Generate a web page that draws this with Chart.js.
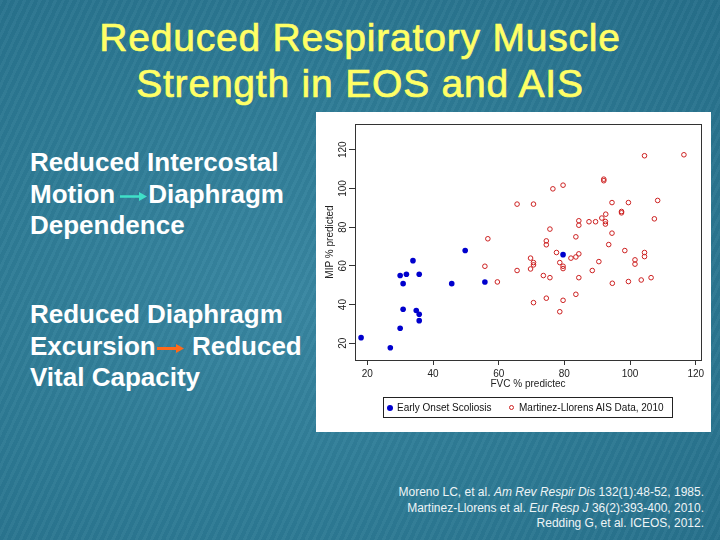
<!DOCTYPE html>
<html>
<head>
<meta charset="utf-8">
<script src="https://cdn.jsdelivr.net/npm/chart.js@4"></script>
<style>
  html, body { margin: 0; padding: 0; }
  body {
    width: 720px; height: 540px; overflow: hidden; position: relative;
    font-family: "Liberation Sans", Arial, sans-serif;
    background: #2c7691;
    background-image:
      repeating-linear-gradient(115deg, rgba(255,255,255,0.03) 0 3px, rgba(0,0,0,0.025) 3px 7px),
      radial-gradient(ellipse at 40% 55%, #3886a1 0%, #2d7a94 55%, #266f8a 100%);
  }
  .title {
    position: absolute; left: 0; top: 15px; width: 720px; text-align: center;
    color: #ffff66; font-size: 39px; line-height: 46px; letter-spacing: 0.8px;
    -webkit-text-stroke: 0.7px #ffff66;
  }
  .side {
    position: absolute; left: 30px; color: #fff; font-weight: bold;
    font-size: 26px; line-height: 31.5px;
  }
  .arrow { display: inline-block; width: 29px; height: 11px; vertical-align: 1px; }
  .panel {
    position: absolute; left: 316px; top: 112px; width: 395px; height: 320px; background: #fff;
  }
  .legend {
    position: absolute; left: 67px; top: 285px; width: 288px; height: 19px;
    border: 1px solid #222; font-size: 10px; color: #111; line-height: 19px;
  }
  .legend span { position: absolute; top: 0; }
  .dot { position: absolute; width: 6px; height: 6px; border-radius: 50%; top: 6.5px; box-sizing: border-box; }
  .refs {
    position: absolute; right: 16px; top: 485px; text-align: right;
    color: #eef4f6; font-size: 12px; line-height: 15.5px;
  }
</style>
</head>
<body>
<div class="title">Reduced Respiratory Muscle<br>Strength in EOS and AIS</div>

<div class="side" style="top:147px">Reduced Intercostal<br>Motion<svg class="arrow" style="margin-left:4px" viewBox="0 0 29 11"><line x1="1" y1="5.5" x2="21" y2="5.5" stroke="#3fe0c8" stroke-width="2.5"/><path d="M20 1 L28 5.5 L20 10 Z" fill="#3fe0c8"/></svg>Diaphragm<br>Dependence</div>

<div class="side" style="top:299px">Reduced Diaphragm<br>Excursion<svg class="arrow" viewBox="0 0 29 11"><line x1="1" y1="5.5" x2="21" y2="5.5" stroke="#ff6a1a" stroke-width="3"/><path d="M20 1 L28 5.5 L20 10 Z" fill="#ff6a1a"/></svg> Reduced<br>Vital Capacity</div>

<div class="panel">
  <canvas id="scatter" width="395" height="320"></canvas>
  <div class="legend">
    <div class="dot" style="left:3px;background:#0000cd"></div>
    <span style="left:13px">Early Onset Scoliosis</span>
    <div class="dot" style="left:125px;border:1px solid #cc2020;width:5px;height:5px;top:7px"></div>
    <span style="left:135px">Martinez-Llorens AIS Data, 2010</span>
  </div>
</div>

<div class="refs">
  Moreno LC, et al. <i>Am Rev Respir Dis</i> 132(1):48-52, 1985.<br>
  Martinez-Llorens et al. <i>Eur Resp J</i> 36(2):393-400, 2010.<br>
  Redding G, et al. ICEOS, 2012.
</div>

<script>
// Early onset scoliosis (FVC %, MIP %)
const eosFvc = [49.8, 33.9, 30.0, 31.9, 35.8, 30.9, 45.7, 55.8, 79.6, 30.9, 34.9, 35.8, 35.8, 30.0, 18.1, 27.0];
const eosMip = [67.9, 62.7, 55.0, 55.7, 55.7, 50.8, 50.8, 51.7, 65.8, 37.6, 36.9, 35.0, 31.7, 27.8, 22.9, 17.7];

// Martinez-Llorens AIS data
const aisFvc = [104.4, 116.4, 92.0, 92.0, 76.5, 79.6, 65.6, 70.6, 94.5, 99.5, 108.4, 97.4, 97.4, 92.6, 91.4,
  92.5, 92.5, 84.4, 84.4, 87.5, 89.5, 107.4, 75.6, 94.5, 74.5, 74.5, 83.5, 93.5, 77.6, 82.0, 83.5, 84.4,
  98.4, 104.4, 104.4, 90.5, 101.5, 101.5, 69.7, 70.6, 70.6, 78.6, 79.6, 79.6, 65.6, 69.7, 88.5, 73.6,
  75.6, 84.4, 94.6, 99.5, 103.4, 106.4, 70.6, 74.5, 79.6, 83.5, 78.6, 56.7, 55.8, 59.6];
const aisMip = [116.9, 117.4, 104.8, 104.0, 99.8, 101.7, 91.9, 91.9, 92.7, 92.7, 93.8, 88.1, 87.4, 86.7, 84.7,
  82.9, 81.6, 83.3, 81.0, 82.8, 82.8, 84.3, 79.0, 76.9, 72.9, 70.9, 75.0, 71.0, 66.9, 64.0, 64.6, 66.2,
  67.9, 66.9, 64.8, 62.2, 63.1, 60.9, 64.0, 61.7, 60.5, 61.7, 59.8, 58.6, 57.6, 58.4, 57.6, 55.0,
  53.9, 53.9, 51.0, 51.9, 52.7, 53.9, 41.0, 43.3, 42.2, 45.3, 36.3, 74.0, 59.8, 51.7];

const xTicks = [20, 40, 60, 80, 100, 120];
const yTicks = [20, 40, 60, 80, 100, 120];

function toPoints(xs, ys) {
  return xs.map((x, i) => ({x: x, y: ys[i]}));
}

const fixTicks = (vals) => (scale) => { scale.ticks = vals.map(v => ({value: v})); };

// box round the plot and R-style rotated y labels
const rFrame = {
  id: "rFrame",
  afterDraw(chart) {
    const {ctx, chartArea: a} = chart;
    const y = chart.scales.y;
    ctx.save();
    ctx.strokeStyle = "#333";
    ctx.lineWidth = 1;
    ctx.strokeRect(Math.round(a.left) + 0.5, Math.round(a.top) + 0.5,
      Math.round(a.right - a.left), Math.round(a.bottom - a.top));
    ctx.fillStyle = "#222";
    ctx.font = "10px 'Liberation Sans', Arial, sans-serif";
    ctx.textAlign = "center";
    ctx.textBaseline = "middle";
    yTicks.forEach(v => {
      ctx.save();
      ctx.translate(27, y.getPixelForValue(v));
      ctx.rotate(-Math.PI / 2);
      ctx.fillText(String(v), 0, 0);
      ctx.restore();
    });
    ctx.restore();
  }
};

new Chart(document.getElementById("scatter"), {
  type: "scatter",
  data: {
    datasets: [
      {
        label: "Early Onset Scoliosis",
        data: toPoints(eosFvc, eosMip),
        pointRadius: 2.8,
        backgroundColor: "#0000cd",
        borderWidth: 0
      },
      {
        label: "Martinez-Llorens AIS Data, 2010",
        data: toPoints(aisFvc, aisMip),
        pointRadius: 2.3,
        backgroundColor: "rgba(0,0,0,0)",
        borderColor: "#cc2020",
        borderWidth: 1
      }
    ]
  },
  options: {
    responsive: false,
    animation: false,
    layout: {padding: {top: 12, right: 10, left: 0, bottom: 32}},
    plugins: {legend: {display: false}, tooltip: {enabled: false}},
    scales: {
      x: {
        min: 16.25, max: 121.6,
        afterBuildTicks: fixTicks(xTicks),
        afterFit: (s) => { s.height = 40; },
        border: {display: false},
        grid: {display: true, drawOnChartArea: false, drawTicks: true, tickLength: 5, color: "#333"},
        ticks: {color: "#222", padding: 3, maxRotation: 0, font: {family: "Liberation Sans", size: 10}},
        title: {display: true, text: "FVC % predictec", color: "#222", padding: {top: 0, bottom: 10},
          font: {family: "Liberation Sans", size: 10}}
      },
      y: {
        min: 11.36, max: 133.3,
        afterBuildTicks: fixTicks(yTicks),
        afterFit: (s) => { s.width = 39; },
        border: {display: false},
        grid: {display: true, drawOnChartArea: false, drawTicks: true, tickLength: 6, color: "#333"},
        ticks: {display: false},
        title: {display: true, text: "MIP % predicted", color: "#222", padding: {top: 8, bottom: 0},
          font: {family: "Liberation Sans", size: 10}}
      }
    }
  },
  plugins: [rFrame]
});
</script>
</body>
</html>
